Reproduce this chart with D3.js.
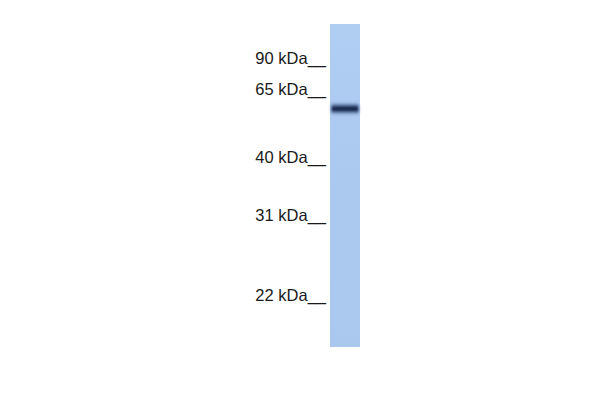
<!DOCTYPE html>
<html>
<head>
<meta charset="utf-8">
<script src="https://cdn.jsdelivr.net/npm/d3@7"></script>
<style>
  html, body { margin: 0; padding: 0; background: #ffffff; }
  svg { display: block; }
</style>
</head>
<body>
<svg id="chart" width="600" height="400"></svg>
<script>
// ---- data ----
const markerLabels = ["90 kDa", "65 kDa", "40 kDa", "31 kDa", "22 kDa"];
const markerKDa = [90, 65, 40, 31, 22];
// relative migration (0 = top of lane, 1 = bottom of lane)
const markerRf = [0.130, 0.226, 0.437, 0.616, 0.864];
const lanes = ["Lane 1"];
const bandLane = ["Lane 1"];
const bandRf = [0.262];
const bandIntensity = [1.0];

const svg = d3.select("#chart");

const x = d3.scaleBand().domain(lanes).range([330, 360]).padding(0);
const y = d3.scaleLinear().domain([0, 1]).range([24, 347]);
const shade = d3.scaleLinear().domain([0, 1]).range(["#a9c7ee", "#16264c"]);

const defs = svg.append("defs");
const laneGrad = defs.append("linearGradient")
  .attr("id", "laneGrad").attr("x1", 0).attr("y1", 0).attr("x2", 0).attr("y2", 1);
laneGrad.append("stop").attr("offset", "0%").attr("stop-color", "#b0cdf2");
laneGrad.append("stop").attr("offset", "50%").attr("stop-color", "#abc9ef");
laneGrad.append("stop").attr("offset", "100%").attr("stop-color", "#aac8ee");

const blur = defs.append("filter").attr("id", "blur")
  .attr("x", "-20%").attr("y", "-100%").attr("width", "140%").attr("height", "300%");
blur.append("feGaussianBlur").attr("stdDeviation", "1.2 1.5");

// lane
svg.append("g").selectAll("rect.lane")
  .data(lanes).join("rect")
  .attr("class", "lane")
  .attr("x", d => x(d))
  .attr("y", y(0))
  .attr("width", x.bandwidth())
  .attr("height", y(1) - y(0))
  .attr("fill", "url(#laneGrad)");

// band(s)
const bands = bandRf.map((r, i) => ({ lane: bandLane[i], rf: r, v: bandIntensity[i] }));
const bg = svg.append("g").attr("filter", "url(#blur)");
bg.selectAll("rect.band-halo")
  .data(bands).join("rect")
  .attr("x", d => x(d.lane) + 0.5)
  .attr("y", d => y(d.rf) - 5.5)
  .attr("width", x.bandwidth() - 1)
  .attr("height", 11)
  .attr("rx", 3)
  .attr("fill", "#5a78a8")
  .attr("opacity", 0.6);
bg.selectAll("rect.band")
  .data(bands).join("rect")
  .attr("x", d => x(d.lane) + 1.5)
  .attr("y", d => y(d.rf) - 3)
  .attr("width", x.bandwidth() - 3)
  .attr("height", 6)
  .attr("rx", 2)
  .attr("fill", d => shade(d.v));

// marker labels
const markers = markerLabels.map((t, i) => ({ label: t, kda: markerKDa[i], rf: markerRf[i] }));
svg.append("g").selectAll("text.marker")
  .data(markers).join("text")
  .attr("class", "marker")
  .attr("x", 326)
  .attr("y", d => y(d.rf) - 2.4)
  .attr("text-anchor", "end")
  .attr("font-family", "Liberation Sans, Arial, sans-serif")
  .attr("font-size", 16.5)
  .attr("fill", "#1a1a1a")
  .text(d => d.label + "__");
</script>
</body>
</html>
